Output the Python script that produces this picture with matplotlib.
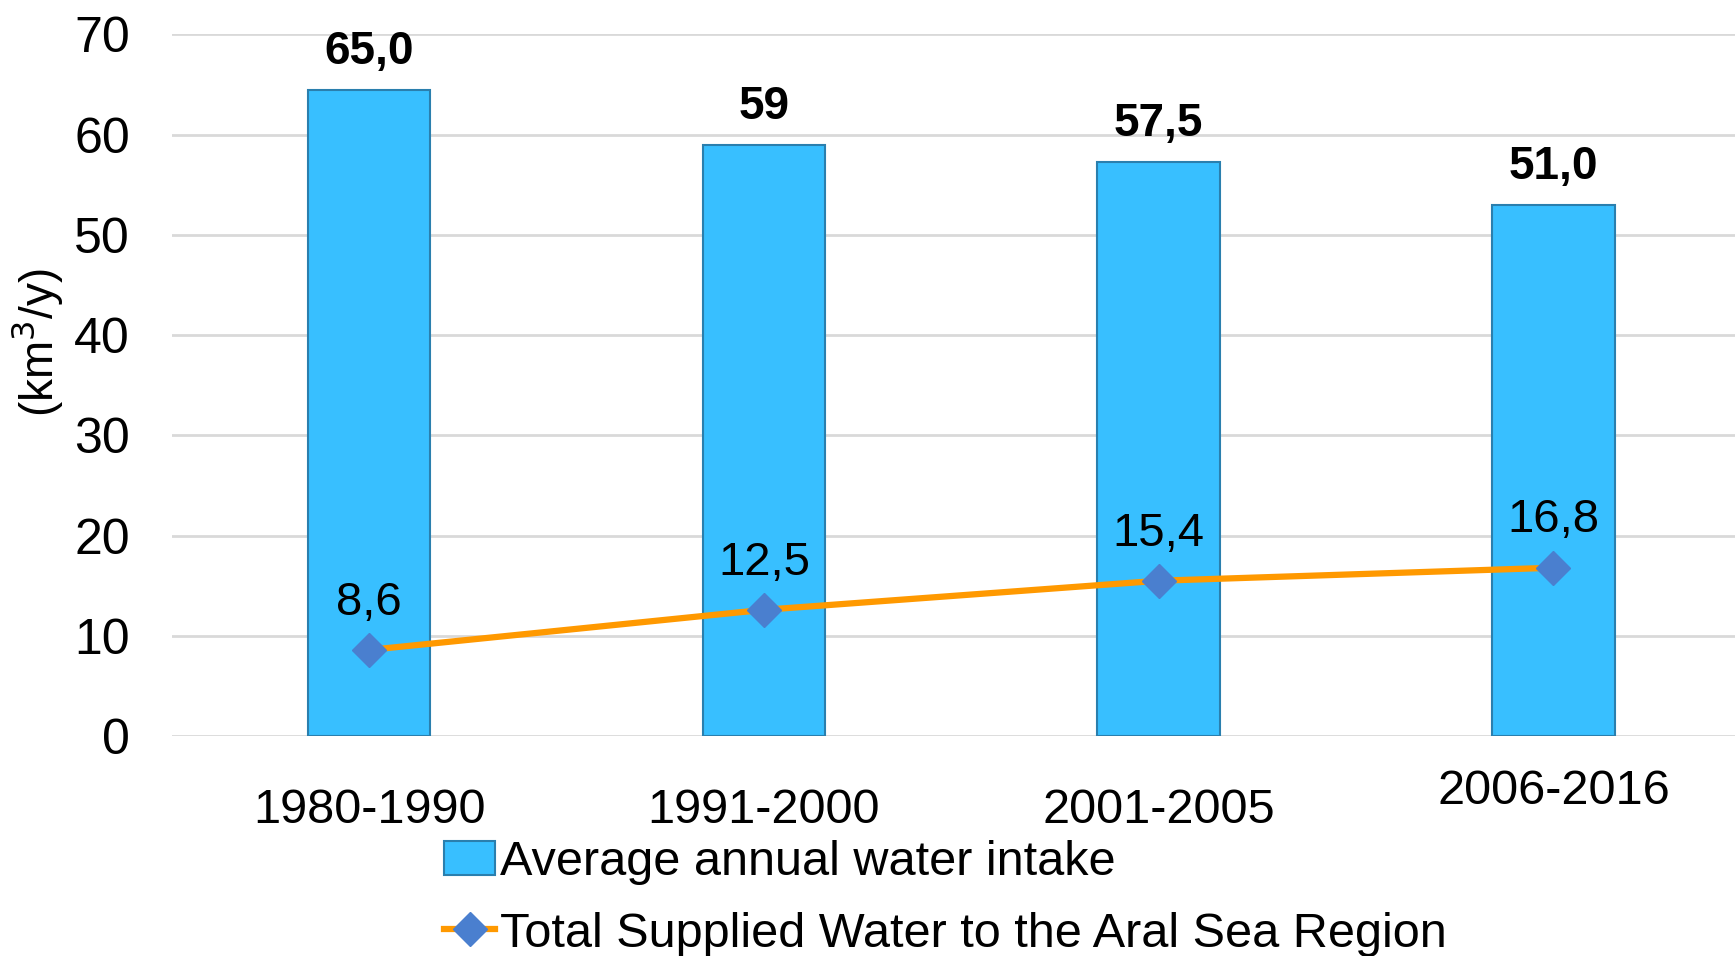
import matplotlib
matplotlib.use('Agg')
from matplotlib import pyplot as plt

periods = ['1980-1990', '1991-2000', '2001-2005', '2006-2016']
intake = [64.5, 59.0, 57.3, 53.0]
intake_labels = ['65,0', '59', '57,5', '51,0']
supplied = [8.6, 12.6, 15.5, 16.8]
supplied_labels = ['8,6', '12,5', '15,4', '16,8']

plt.rcParams['font.family'] = ['Liberation Sans', 'DejaVu Sans']

fig = plt.figure(figsize=(17.35, 9.56), dpi=100)
ax = fig.add_axes([0.099, 0.230, 0.901, 0.734])

x = list(range(len(periods)))
bars = ax.bar(x, intake, width=0.31, color='#38BFFF', edgecolor='#2a7fae',
              linewidth=1.5, zorder=2, label='Average annual water intake')
line, = ax.plot(x, supplied, color='#FF9900', linewidth=4.5, marker='D',
                markersize=17, markerfacecolor='#4A7FCF', markeredgecolor='#4A7FCF',
                zorder=3, label='Total Supplied Water to the Aral Sea Region')

for xi, v, lab in zip(x, intake, intake_labels):
    ax.annotate(lab, (xi, v), xytext=(0, 27), textcoords='offset points',
                ha='center', va='center', fontsize=33, fontweight='bold')
for xi, v, lab in zip(x, supplied, supplied_labels):
    ax.annotate(lab, (xi, v), xytext=(0, 34), textcoords='offset points',
                ha='center', va='center', fontsize=34)

ax.set_xlim(-0.5, 3.46)
ax.set_ylim(0, 70)
ax.set_yticks(range(0, 71, 10))
ax.yaxis.grid(True, color='#d9d9d9', linewidth=2)
ax.set_axisbelow(True)
for s in ax.spines.values():
    s.set_visible(False)
ax.tick_params(axis='y', length=0, pad=30, labelsize=36)
ax.set_xticks(x)
ax.set_xticklabels([])
ax.tick_params(axis='x', length=0)

for xi, p in zip(x, periods):
    if xi == len(periods) - 1:
        ax.annotate(p, (xi, 0), xycoords=('data', 'axes fraction'), xytext=(0, -24),
                    textcoords='offset points', ha='center', va='top', fontsize=35)
    else:
        ax.annotate(p, (xi, 0), xycoords=('data', 'axes fraction'), xytext=(0, -37),
                    textcoords='offset points', ha='center', va='top', fontsize=35)

ax.set_ylabel('(km$^3$/y)', fontsize=33)
ax.yaxis.set_label_coords(-0.0685, 0.56)

fig.legend(handles=[bars, line], loc='upper left', bbox_to_anchor=(0.242, 0.147),
           frameon=False, fontsize=35, ncol=1, handlelength=1.05, handletextpad=0.1,
           labelspacing=0.55, borderpad=0)

fig.savefig('out.png', dpi=100)
